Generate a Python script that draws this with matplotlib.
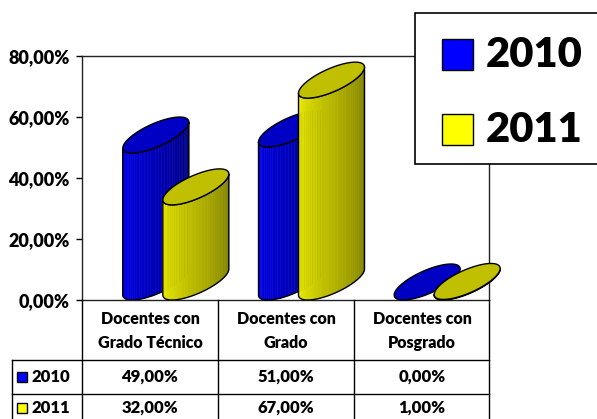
import numpy as np
import matplotlib.pyplot as plt
from matplotlib.patches import Polygon, Rectangle
from matplotlib.colors import to_rgb

# --- Datos ---
categorias = ["Docentes con\nGrado Técnico", "Docentes con\nGrado", "Docentes con\nPosgrado"]
series = ["2010", "2011"]
valores_2010 = [49.0, 51.0, 0.0]
valores_2011 = [32.0, 67.0, 1.0]
ticks_y = [0, 20, 40, 60, 80]

# --- Estilo ---
PESO = "heavy"
plt.rcParams["font.family"] = ["Lato", "DejaVu Sans"]
plt.rcParams["font.weight"] = PESO

W, H = 597, 419
fig = plt.figure(figsize=(W / 100, H / 100), dpi=100)
fig.patch.set_facecolor("white")


def fmt(v):
    return f"{v:.2f}".replace(".", ",") + "%"


# --- Ejes principales ---
x0, y0, x1, y1 = 82, 56, 489, 300
ax = fig.add_axes([x0 / W, 1 - y1 / H, (x1 - x0) / W, (y1 - y0) / H])
ax.set_xlim(-0.5, 2.5)
ax.set_ylim(0, 80)
ax.set_xticks([])
ax.set_yticks(ticks_y)
ax.set_yticklabels([fmt(v) for v in ticks_y], fontsize=13, fontweight=PESO)
ax.tick_params(axis="y", direction="out", length=4, width=1, pad=5, colors="black")
for s in ax.spines.values():
    s.set_color("#222222")
    s.set_linewidth(1)

# --- Cilindros 3D (geometria en pixeles) ---
R, DDY, OFF = 33.0, 18.0, 13.0
DDX = OFF * R / DDY
RX = np.sqrt(R ** 2 - DDX ** 2)
t_der = np.arctan2(DDX, RX)
t_izq = t_der - np.pi
inv = ax.transData.inverted()


def arco(cx, cy, t):
    return np.column_stack([cx + RX * np.cos(t) + DDX * np.sin(t), cy + DDY * np.sin(t)])


def cilindro(i, valor, desplaz, claro, oscuro, tapa, z):
    px, py_val = ax.transData.transform((i, valor))
    _, py_0 = ax.transData.transform((i, 0))
    cx = px + desplaz + R
    cy_base = py_0 + DDY
    cy_tapa = max(py_val + DDY - 2.5, cy_base)
    c1, c2 = np.array(to_rgb(claro)), np.array(to_rgb(oscuro))

    if cy_tapa - cy_base > 0.5:
        n = 36
        ts = np.linspace(t_izq, t_der, n + 1)
        for k in range(n):
            tt = np.linspace(ts[k], ts[k + 1], 4)
            abajo = arco(cx, cy_base, tt)
            arriba = arco(cx, cy_tapa, tt[::-1])
            f = (k + 0.5) / n
            col = c1 * (1 - f) + c2 * f
            ax.add_patch(Polygon(inv.transform(np.vstack([abajo, arriba])),
                                 closed=True, facecolor=col, edgecolor=col,
                                 lw=0.4, zorder=z, clip_on=False))
        tt = np.linspace(t_izq, t_der, 80)
        borde = np.vstack([arco(cx, cy_base, tt), arco(cx, cy_tapa, tt[::-1])])
        ax.add_patch(Polygon(inv.transform(borde), closed=True, fill=False,
                             edgecolor="black", lw=1, zorder=z + 0.1, clip_on=False))

    tt = np.linspace(0, 2 * np.pi, 120)
    ax.add_patch(Polygon(inv.transform(arco(cx, cy_tapa, tt)), closed=True,
                         facecolor=tapa, edgecolor="black", lw=1,
                         zorder=z + 0.2, clip_on=False))


z = 2
for i in range(len(categorias)):
    cilindro(i, valores_2010[i], -27, "#0000F5", "#000078", "#0000C4", z)
    cilindro(i, valores_2011[i], 13, "#F5F500", "#787800", "#C0C000", z + 1)
    z += 2

# --- Capa superpuesta: leyenda y tabla de datos ---
ov = fig.add_axes([0, 0, 1, 1], zorder=5)
ov.set_xlim(0, W)
ov.set_ylim(H, 0)
ov.axis("off")

colores = ["#0000FF", "#FFFF00"]

# leyenda
ov.add_patch(Rectangle((415, 13), 190, 151, facecolor="white", edgecolor="black", lw=1.2))
for k, (nombre, col) in enumerate(zip(series, colores)):
    yc = 54 + k * 75
    ov.add_patch(Rectangle((442, yc - 15), 31, 31, facecolor=col, edgecolor="black", lw=1))
    ov.text(486, yc + 1, nombre, fontsize=30, fontweight=PESO, va="center", ha="left")

# tabla
lc = dict(color="black", lw=1)
for xv in [82, 218, 354, 489]:
    ov.plot([xv, xv], [300, 419], **lc)
ov.plot([12, 12], [360, 419], **lc)
for yh in [360, 394]:
    ov.plot([12, 489], [yh, yh], **lc)

centros = [150, 286, 422]
for c, cat in zip(centros, categorias):
    ov.text(c, 331, cat, fontsize=11.5, fontweight=PESO, ha="center", va="center",
            linespacing=1.55)

filas = [valores_2010, valores_2011]
for k, (nombre, col, vals) in enumerate(zip(series, colores, filas)):
    yc = 377 + k * 31
    ov.add_patch(Rectangle((17, yc - 5), 10, 10, facecolor=col, edgecolor="black", lw=1))
    ov.text(31, yc, nombre, fontsize=12, fontweight=PESO, va="center", ha="left")
    for c, v in zip(centros, vals):
        ov.text(c, yc, fmt(v), fontsize=12, fontweight=PESO, va="center", ha="center")

fig.savefig("out.png", dpi=100)
